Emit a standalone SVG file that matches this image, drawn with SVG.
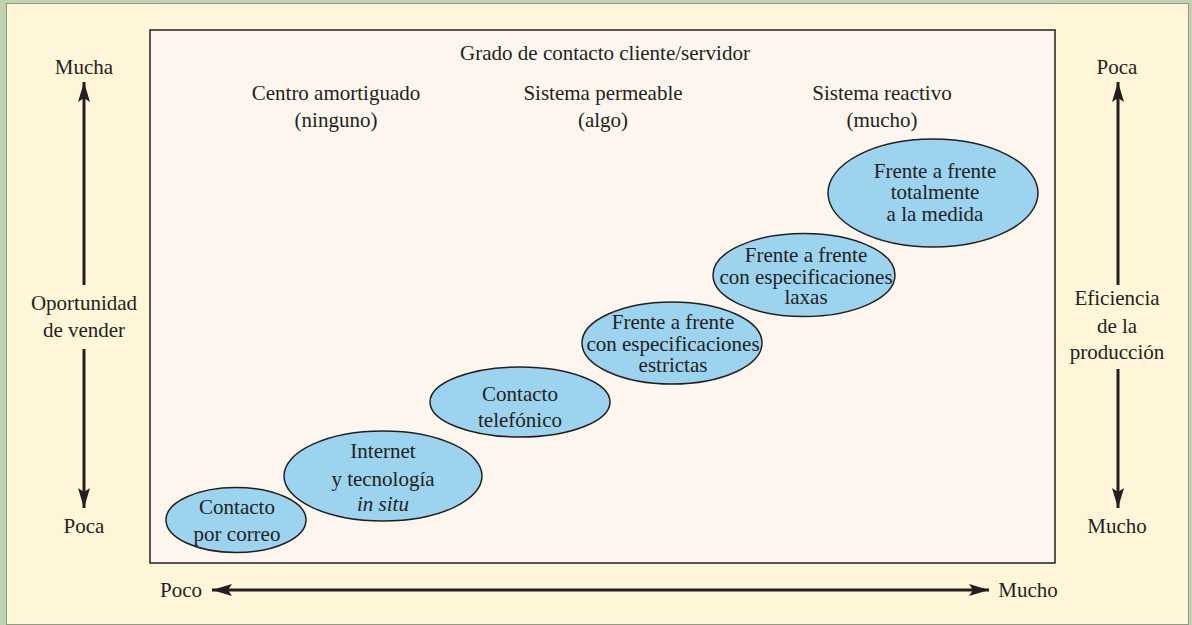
<svg xmlns="http://www.w3.org/2000/svg" width="1192" height="625" viewBox="0 0 1192 625">
<style>
text{font-family:"Liberation Serif","Times New Roman",serif;font-size:21px;fill:#231f20;text-anchor:middle}
.ell{fill:#9cd3ee;stroke:#231f20;stroke-width:1.5}
.ax{stroke:#231f20;stroke-width:3;fill:none}
</style>
<defs>
<marker id="ah" viewBox="0 0 20 12" refX="20" refY="6" markerWidth="20" markerHeight="12" markerUnits="userSpaceOnUse" orient="auto">
<path d="M0,0 L20,6 L0,12 L4,6 Z" fill="#231f20"/>
</marker>
</defs>
<rect x="0" y="0" width="1192" height="625" fill="#bfd3b3"/>
<rect x="6.5" y="3.5" width="1182" height="621" fill="#fff5d8" stroke="#8e9c86" stroke-width="1"/>
<rect x="150" y="30" width="905" height="533" fill="#fdf6ee" stroke="#231f20" stroke-width="1.5"/>

<g id="labels">
<text x="605" y="60">Grado de contacto cliente/servidor</text>
<text x="336" y="100">Centro amortiguado</text>
<text x="336" y="127">(ninguno)</text>
<text x="603" y="100">Sistema permeable</text>
<text x="603" y="127">(algo)</text>
<text x="882" y="100">Sistema reactivo</text>
<text x="882" y="127">(mucho)</text>
<text x="84" y="74">Mucha</text>
<text x="84" y="533">Poca</text>
<text x="84" y="310">Oportunidad</text>
<text x="84" y="337">de vender</text>
<text x="1117" y="74">Poca</text>
<text x="1117" y="533">Mucho</text>
<text x="1117" y="305">Eficiencia</text>
<text x="1117" y="333">de la</text>
<text x="1117" y="359">producción</text>
<text x="181" y="597">Poco</text>
<text x="1028" y="597">Mucho</text>
</g>

<g id="connectors">
<line class="ax" x1="84" y1="285" x2="84" y2="82" marker-end="url(#ah)"/>
<line class="ax" x1="84" y1="349" x2="84" y2="508" marker-end="url(#ah)"/>
<line class="ax" x1="1118" y1="285" x2="1118" y2="82" marker-end="url(#ah)"/>
<line class="ax" x1="1118" y1="369" x2="1118" y2="508" marker-end="url(#ah)"/>
<line class="ax" x1="600" y1="590" x2="212" y2="590" marker-end="url(#ah)"/>
<line class="ax" x1="600" y1="590" x2="989" y2="590" marker-end="url(#ah)"/>
</g>

<g id="n1">
<ellipse class="ell" cx="236" cy="520" rx="70" ry="32.5"/>
<text x="237" y="514">Contacto</text>
<text x="237" y="541">por correo</text>
</g>
<g id="n2">
<ellipse class="ell" cx="383" cy="476" rx="99" ry="45"/>
<text x="383" y="458">Internet</text>
<text x="383" y="486">y tecnología</text>
<text x="383" y="511" font-style="italic">in situ</text>
</g>
<g id="n3">
<ellipse class="ell" cx="520" cy="402" rx="90" ry="35"/>
<text x="520" y="401">Contacto</text>
<text x="520" y="427">telefónico</text>
</g>
<g id="n4">
<ellipse class="ell" cx="672" cy="343" rx="90" ry="41"/>
<text x="673" y="329">Frente a frente</text>
<text x="673" y="351">con especificaciones</text>
<text x="673" y="372">estrictas</text>
</g>
<g id="n5">
<ellipse class="ell" cx="804" cy="275" rx="91" ry="41.5"/>
<text x="806" y="262">Frente a frente</text>
<text x="806" y="284">con especificaciones</text>
<text x="806" y="304">laxas</text>
</g>
<g id="n6">
<ellipse class="ell" cx="933" cy="193" rx="105" ry="54"/>
<text x="935" y="178">Frente a frente</text>
<text x="935" y="199">totalmente</text>
<text x="935" y="221">a la medida</text>
</g>
</svg>
